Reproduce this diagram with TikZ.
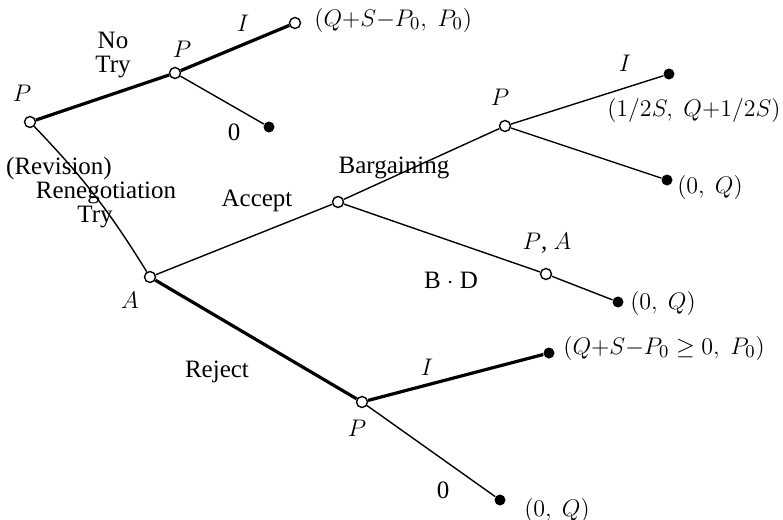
\documentclass[tikz,border=0pt]{standalone}
\usepackage{fontspec}
\setmainfont{Liberation Serif}
\begin{document}
\begin{tikzpicture}[x=0.5pt,y=-0.5pt,
  open/.style={circle,draw,fill=white,line width=0.7pt,inner sep=0pt,minimum size=5.5pt},
  dot/.style={circle,fill=black,inner sep=0pt,minimum size=5.5pt},
  edgeline/.style={line width=0.7pt},
  boldline/.style={line width=1.6pt},
  lab/.style={font=\fontsize{12.5}{12}\selectfont,inner sep=0pt}]
\useasboundingbox (0,0) rectangle (783,520);
% decision nodes and end points
\node[open] (root) at (30,122) {};
\node[open] (p2) at (175,73) {};
\node[open] (i1) at (295,23) {};
\node[dot] (z1) at (269,127) {};
\node[open] (a) at (150,277) {};
\node[open] (acc) at (338,202) {};
\node[open] (p3) at (505,126) {};
\node[dot] (i2) at (669,74) {};
\node[dot] (z2) at (667,180) {};
\node[open] (pa) at (546,274) {};
\node[dot] (z3) at (618,302) {};
\node[open] (rp) at (362,402) {};
\node[dot] (i3) at (549,353) {};
\node[dot] (z4) at (500,500) {};
% branches
\draw[boldline] (root) -- (p2);
\draw[boldline] (p2) -- (i1);
\draw[edgeline] (p2) -- (z1);
\draw[edgeline] (root) to[bend left=6] (a);
\draw[edgeline] (a) -- (acc);
\draw[edgeline] (acc) -- (p3);
\draw[edgeline] (p3) -- (i2);
\draw[edgeline] (p3) -- (z2);
\draw[edgeline] (acc) -- (pa);
\draw[edgeline] (pa) -- (z3);
\draw[boldline] (a) -- (rp);
\draw[boldline] (rp) -- (i3);
\draw[edgeline] (rp) -- (z4);
% labels
\node[lab] (lroot) at (22,93) {$P$};
\node[lab,align=center] (lnotry) at (113,55) {No\\Try};
\node[lab] (lp2) at (182,49) {$P$};
\node[lab] (li1) at (243,23) {$I$};
\node[lab,anchor=west] (pay1) at (314,20) {$(Q{+}S{-}P_0,\;P_0)$};
\node[lab] (lz1) at (234,132) {0};
\node[lab] (lrev) at (59,168) {(Revision)};
\node[lab] (lreneg) at (106,193) {Renegotiation};
\node[lab] (ltry) at (95,217) {Try};
\node[lab] (laccept) at (257,201) {Accept};
\node[lab] (la) at (130,300) {$A$};
\node[lab] (lbarg) at (394,168) {Bargaining};
\node[lab] (lp3) at (500,97) {$P$};
\node[lab] (li2) at (625,63) {$I$};
\node[lab] (pay2) at (694,110) {$(1/2S,\;Q{+}1/2S)$};
\node[lab] (pay3) at (710,187) {$(0,\ Q)$};
\node[lab] (lpa) at (547,243) {$P$, $A$};
\node[lab] (lbd) at (451,280) {B $\cdot$ D};
\node[lab] (pay4) at (663,303) {$(0,\ Q)$};
\node[lab] (lreject) at (217,372) {Reject};
\node[lab] (li3) at (427,367) {$I$};
\node[lab,anchor=west] (pay5) at (563,348) {$(Q{+}S{-}P_0\geq 0,\;P_0)$};
\node[lab] (lrp) at (357,428) {$P$};
\node[lab] (lz4) at (443,490) {0};
\node[lab] (pay6) at (557,510) {$(0,\ Q)$};
\end{tikzpicture}
\end{document}
